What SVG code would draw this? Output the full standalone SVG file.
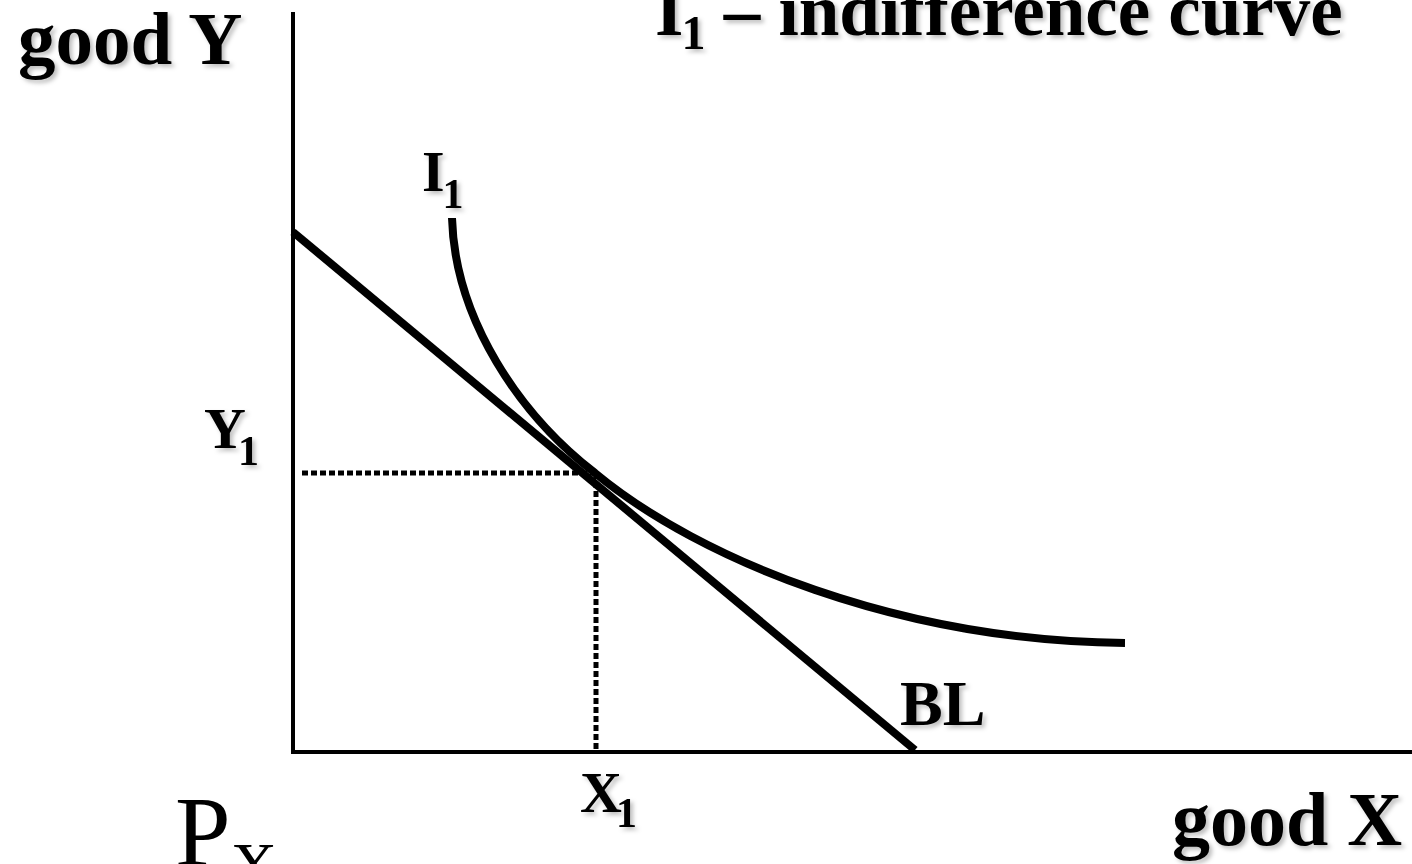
<svg xmlns="http://www.w3.org/2000/svg" width="1412" height="864" viewBox="0 0 1412 864">
<defs>
<filter id="sh" x="-10%" y="-10%" width="130%" height="140%">
<feDropShadow dx="3" dy="3" stdDeviation="2" flood-color="#000" flood-opacity="0.25"/>
</filter>
</defs>
<style>
.t{font-family:"Liberation Serif","Times New Roman",serif;font-weight:bold;fill:#000;filter:url(#sh)}
.r{font-family:"Liberation Serif","Times New Roman",serif;fill:#000}
.ax{stroke:#000;stroke-width:4;fill:none}
.th{stroke:#000;stroke-width:8;fill:none}
.dot{stroke:#000;stroke-width:5;fill:none;stroke-dasharray:6 3}
</style>
<rect width="1412" height="864" fill="#fff"/>
<g id="title"><text class="t" x="655" y="35" font-size="73">I<tspan font-size="48" dy="14" dx="-2">1</tspan><tspan dy="-14"> – indifference curve</tspan></text></g>
<g id="axes">
<line class="ax" x1="293" y1="12" x2="293" y2="754"/>
<line class="ax" x1="291" y1="752" x2="1412" y2="752"/>
</g>
<g id="connectors">
<line class="dot" x1="302" y1="473" x2="596" y2="473"/>
<line class="dot" x1="596" y1="473" x2="596" y2="750"/>
</g>
<g id="budget-line"><line class="th" x1="293" y1="232" x2="915" y2="750"/></g>
<g id="indifference-curve"><path class="th" d="M452,218 C455,320 520,415 595,473 C700,560 900,641 1125,643"/></g>
<g id="labels">
<text class="t" x="18" y="64" font-size="75">good Y</text>
<text class="t" x="1172" y="845" font-size="76">good X</text>
<text class="t" x="422" y="191" font-size="58">I<tspan font-size="42" dy="17" dx="-2">1</tspan></text>
<text class="t" x="204" y="448" font-size="58">Y<tspan font-size="42" dy="17" dx="-8">1</tspan></text>
<text class="t" x="580" y="812" font-size="58">X<tspan font-size="42" dy="15" dx="-6">1</tspan></text>
<text class="t" x="900" y="725" font-size="64">BL</text>
<text class="r" x="175" y="865" font-size="100">P<tspan font-size="64" dy="22">X</tspan></text>
</g>
</svg>
